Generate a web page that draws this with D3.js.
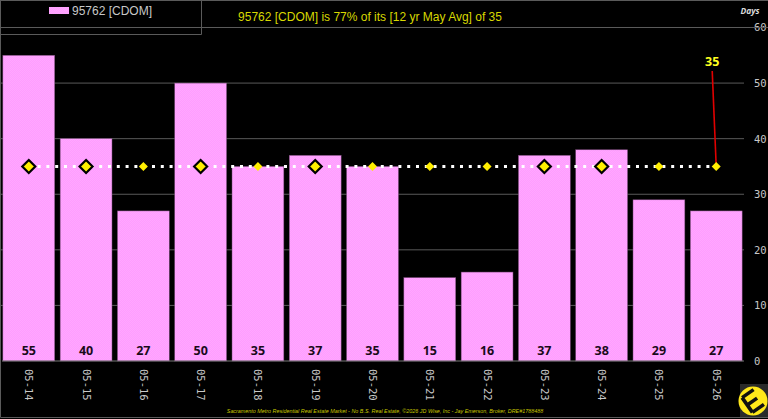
<!DOCTYPE html>
<html>
<head>
<meta charset="utf-8">
<script src="https://cdn.jsdelivr.net/npm/d3@7"></script>
<style>
html,body{margin:0;padding:0;background:#000;overflow:hidden}
svg{display:block}
</style>
</head>
<body>
<svg id="chart" width="768" height="419"></svg>
<script>
const categories = ["05-14","05-15","05-16","05-17","05-18","05-19","05-20","05-21","05-22","05-23","05-24","05-25","05-26"];
const cdom = [55,40,27,50,35,37,35,15,16,37,38,29,27];
const average = [35,35,35,35,35,35,35,35,35,35,35,35,35];
const outlined = [true,true,false,true,false,true,false,false,false,true,true,false,false];
const yTicks = [0,10,20,30,40,50,60];
const seriesName = "95762 [CDOM]";
const titleText = "95762 [CDOM] is 77% of its [12 yr May Avg] of 35";
const footerText = "Sacramento Metro Residential Real Estate Market - No B.S. Real Estate, ©2026 JD Wise, Inc - Jay Emerson, Broker, DRE#1788488";

const svg = d3.select("#chart");
const x = d3.scaleBand().domain(categories).range([0,745]).paddingInner(0.095).paddingOuter(0.05);
const y = d3.scaleLinear().domain([0,60]).range([361,27.5]);
const mono = "'DejaVu Sans Mono', monospace";
const sans = "'Liberation Sans', Arial, sans-serif";
const grey = "#5a5a5a";

// Fine checker fill for the columns
const defs = svg.append("defs");
const pat = defs.append("pattern").attr("id","dither").attr("width",2).attr("height",2).attr("patternUnits","userSpaceOnUse");
pat.append("rect").attr("width",2).attr("height",2).attr("fill","#ff9cff");
pat.append("rect").attr("width",1).attr("height",1).attr("fill","#ffa8ff");
pat.append("rect").attr("x",1).attr("y",1).attr("width",1).attr("height",1).attr("fill","#ffa8ff");

// Value gridlines
svg.append("g").selectAll("line").data(yTicks.filter(d=>d>0)).join("line")
  .attr("x1",0).attr("x2",744).attr("y1",d=>y(d)).attr("y2",d=>y(d))
  .attr("stroke",grey).attr("stroke-width",1);

// Columns
svg.append("g").selectAll("rect").data(cdom).join("rect")
  .attr("x",(d,i)=>x(categories[i])).attr("width",x.bandwidth())
  .attr("y",d=>y(d)).attr("height",d=>y(0)-y(d))
  .attr("fill","url(#dither)").attr("stroke","#7a4a7a").attr("stroke-width",0.5);

// Baseline
svg.append("line").attr("x1",2).attr("x2",744).attr("y1",y(0)).attr("y2",y(0)).attr("stroke","#777").attr("stroke-width",1);

// Column value labels
svg.append("g").selectAll("text").data(cdom).join("text")
  .attr("x",(d,i)=>x(categories[i])+x.bandwidth()/2).attr("y",355)
  .attr("text-anchor","middle").attr("font-family","'Open Sans', sans-serif").attr("font-weight",700)
  .attr("font-size",12.5).attr("fill","#1a0a1a").text(d=>d);

// Average line
const cx = i=>x(categories[i])+x.bandwidth()/2;
svg.append("path")
  .attr("d",d3.line().x((d,i)=>cx(i)).y(d=>y(d))(average))
  .attr("fill","none").attr("stroke","#fff").attr("stroke-width",3)
  .attr("stroke-dasharray","3 5.8");

// Callout leader from the label to the final average point
const last = average.length-1;
svg.append("line").attr("x1",cx(last)-4).attr("y1",71).attr("x2",cx(last)).attr("y2",y(average[last]))
  .attr("stroke","#e00000").attr("stroke-width",1.6);
svg.append("text").attr("x",cx(last)-4).attr("y",66).attr("text-anchor","middle")
  .attr("font-family","'Open Sans', sans-serif").attr("font-weight",700).attr("font-size",12.5)
  .attr("fill","#ffff20").text(average[last]);

// Average markers: bordered where the column reaches the line
const diamond = s=>`M0,${-s}L${s},0L0,${s}L${-s},0Z`;
svg.append("g").selectAll("path").data(average).join("path")
  .attr("transform",(d,i)=>`translate(${cx(i)},${y(d)})`)
  .attr("d",(d,i)=>diamond(outlined[i]?6.5:4.5))
  .attr("fill","#ffee00")
  .attr("stroke",(d,i)=>outlined[i]?"#000":"none")
  .attr("stroke-width",2.2);

// Right value axis
const yAxis = svg.append("g").attr("transform","translate(745,0)")
  .call(d3.axisRight(y).tickValues(yTicks).tickSize(0).tickPadding(9));
yAxis.select(".domain").remove();
yAxis.selectAll("text").attr("font-family",mono).attr("font-size",10.5).attr("fill","#c8c8c8");
svg.append("text").attr("x",750).attr("y",14).attr("text-anchor","middle")
  .attr("font-family","'Open Sans', sans-serif").attr("font-style","italic").attr("font-weight",700)
  .attr("font-size",8.5).attr("fill","#d8d8d8").text("Days");

// Rotated category axis
const xAxis = svg.append("g").attr("transform","translate(0,361)")
  .call(d3.axisBottom(x).tickSize(0));
xAxis.select(".domain").remove();
xAxis.selectAll("text")
  .attr("font-family",mono).attr("font-size",10.5).attr("fill","#c8c8c8")
  .attr("text-anchor","start").attr("dy",0).attr("dx",0)
  .attr("transform","translate(-3.5,8) rotate(90)").attr("y",0).attr("x",0);

// Frame, legend and title boxes
svg.append("path").attr("d","M0.5,0V417.5H768").attr("fill","none").attr("stroke",grey);
svg.append("path").attr("d","M0,0.5H768").attr("fill","none").attr("stroke",grey);
svg.append("path").attr("d","M0,34.5H201.5V0").attr("fill","none").attr("stroke",grey);
svg.append("path").attr("d","M201.5,27.5H768").attr("fill","none").attr("stroke",grey);

svg.append("rect").attr("x",49).attr("y",7).attr("width",20).attr("height",7).attr("fill","url(#dither)");
svg.append("text").attr("x",72).attr("y",15).attr("font-family",sans).attr("font-size",12).attr("fill","#c8c8c8").text(seriesName);
svg.append("text").attr("x",370).attr("y",21).attr("text-anchor","middle").attr("font-family",sans).attr("font-size",12).attr("fill","#d8d800").text(titleText);
svg.append("text").attr("x",385).attr("y",413).attr("text-anchor","middle").attr("font-family",sans).attr("font-style","italic").attr("font-size",5.4).attr("fill","#c8c800").text(footerText);

// Brand badge
const badge = svg.append("g").attr("transform","translate(750,401)");
badge.append("rect").attr("x",-10).attr("y",-17).attr("width",28).attr("height",33).attr("fill","#2a2a2a");
badge.append("circle").attr("r",14.5).attr("cx",3).attr("cy",0).attr("fill","#ffe81a");
badge.append("path").attr("transform","translate(3,0) rotate(-35)")
  .attr("d","M-7,-9H7M-7,0H5M-7,9H7M-7,-9V9").attr("fill","none").attr("stroke","#111").attr("stroke-width",3.6);
</script>
</body>
</html>
